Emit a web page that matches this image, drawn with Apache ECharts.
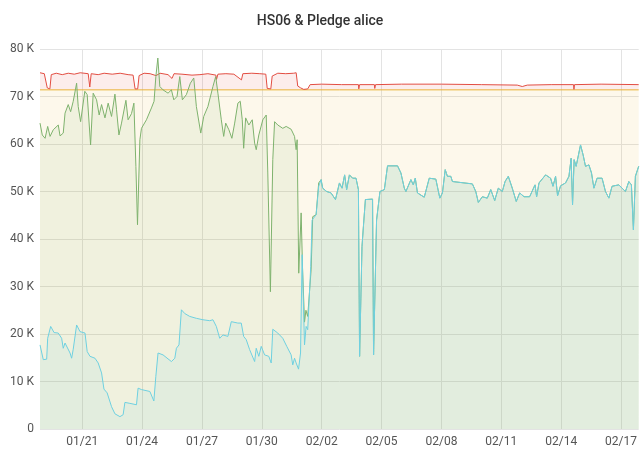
<!DOCTYPE html>
<html>
<head>
<meta charset="utf-8">
<title>HS06 & Pledge alice</title>
<script src="https://cdn.jsdelivr.net/npm/echarts@6/dist/echarts.min.js"></script>
<style>
  html, body { margin: 0; padding: 0; background: #fff; }
  #chart { width: 640px; height: 449px; }
</style>
</head>
<body>
<div id="chart"></div>
<script>
// x values are day of year (01/21 = 21, 02/02 = 33), y values in thousands (K)

// pledge
const pledgeDays = [18.885, 48.885]
const pledgeValues = [71.4, 71.4]

// red line
const redDays = [18.885, 19.1, 19.2, 19.25, 19.38, 19.45, 19.7, 20.0, 20.3, 20.6, 20.9, 21.3, 21.38, 21.45,
  21.8, 22.1, 22.5, 22.9, 23.3, 23.55, 23.65, 23.78, 23.85, 24.1, 24.4, 24.7, 24.9, 25.3, 25.5, 25.6, 26.0,
  26.5, 26.9, 27.3, 27.7, 27.73, 27.8, 28.2, 28.6, 28.98, 29.05, 29.5, 29.9, 30.2, 30.27, 30.45, 30.52,
  30.8, 31.2, 31.6, 31.72, 31.8, 31.95, 32.1, 32.2, 32.3, 32.42, 33, 34, 34.84, 34.86, 34.9, 35.64, 35.66,
  35.7, 37, 39, 41, 42.8, 43.05, 43.3, 44.5, 45.62, 45.64, 45.67, 47, 48.885]
const redValues = [75.0, 74.8, 74.7, 71.8, 71.6, 74.6, 74.9, 74.6, 74.9, 74.7, 75.0, 74.8, 72.0, 74.8,
  74.6, 74.9, 74.7, 74.9, 74.6, 74.5, 71.6, 71.6, 74.4, 74.9, 74.8, 74.4, 74.9, 74.6, 73.8, 74.8, 74.7,
  74.5, 74.6, 74.8, 74.5, 73.6, 74.7, 74.8, 74.7, 73.5, 74.8, 74.9, 74.8, 74.7, 71.7, 71.6, 74.3,
  74.9, 74.8, 74.9, 75.0, 72.2, 71.8, 71.5, 71.9, 71.6, 72.5, 72.6, 72.5, 72.5, 71.6, 72.5, 72.5, 71.7,
  72.5, 72.6, 72.6, 72.5, 72.4, 72.1, 72.4, 72.5, 72.5, 71.5, 72.5, 72.6, 72.5]

// green line, until it joins the cyan one on 02/02
const greenDays = [18.885, 19.0, 19.14, 19.27, 19.39, 19.55, 19.8, 19.89, 20.05, 20.14, 20.3, 20.42, 20.55,
  20.72, 20.8, 20.92, 21.13, 21.25, 21.42, 21.55, 21.72, 21.85, 21.97, 22.14, 22.3, 22.47, 22.64, 22.72,
  22.84, 22.97, 23.19, 23.3, 23.47, 23.59, 23.69, 23.77, 23.89, 23.97, 24.22, 24.47, 24.6, 24.69, 24.79,
  24.89, 25.05, 25.3, 25.47, 25.59, 25.75, 25.89, 26.02, 26.22, 26.42, 26.59, 26.72, 26.94, 27.09, 27.3,
  27.55, 27.69, 27.8, 27.97, 28.09, 28.19, 28.35, 28.5, 28.64, 28.8, 28.92, 29.02, 29.09, 29.19, 29.35,
  29.52, 29.64, 29.72, 29.85, 30.05, 30.22, 30.3, 30.43, 30.55, 30.64, 30.8, 31.05, 31.22, 31.47, 31.64,
  31.72, 31.77, 31.85, 31.97, 32.04, 32.14, 32.21, 32.3, 32.39, 32.47, 32.55, 32.72, 32.85]
const greenValues = [64.4, 61.9, 61.2, 63.7, 61.6, 63.0, 64.0, 61.7, 62.3, 66.5, 68.3, 66.8, 69.0,
  72.8, 67.9, 64.7, 71.1, 70.4, 59.8, 70.7, 69.3, 66.1, 68.3, 65.5, 68.6, 65.8, 70.5, 67.2,
  61.9, 64.4, 69.2, 65.1, 66.4, 68.6, 55.3, 43.0, 60.9, 63.3, 65.1, 67.6, 69.0, 74.2, 78.1,
  72.1, 71.4, 70.7, 71.4, 69.3, 70.0, 74.2, 69.3, 70.4, 72.8, 73.9, 67.9, 62.3, 65.8, 67.9,
  72.1, 74.2, 70.7, 65.1, 61.6, 64.4, 63.0, 61.2, 64.4, 68.6, 69.0, 65.1, 59.1, 65.5, 64.0,
  65.1, 60.2, 58.8, 61.9, 65.1, 66.1, 53.9, 28.9, 56.7, 64.7, 64.0, 63.3, 63.7, 63.1, 61.6,
  58.8, 60.9, 32.8, 45.5, 34.0, 22.5, 25.0, 23.7, 23.5, 33.5, 44.7, 45.1, 51.8]

// cyan line
const cyanDays = [18.885, 19.05, 19.22, 19.27, 19.42, 19.59, 19.8, 19.97, 20.05, 20.14, 20.39, 20.47, 20.55,
  20.64, 20.72, 20.89, 21.14, 21.25, 21.39, 21.64, 21.8, 21.97, 22.09, 22.25, 22.47, 22.64, 22.89, 23.05,
  23.14, 23.39, 23.72, 23.8, 23.97, 24.39, 24.59, 24.69, 24.8, 25.05, 25.47, 25.64, 25.72, 25.85, 25.97,
  26.14, 26.39, 26.72, 27.05, 27.39, 27.55, 27.72, 27.89, 28.05, 28.3, 28.47, 28.8, 28.97, 29.09, 29.22,
  29.39, 29.64, 29.72, 29.85, 29.97, 30.14, 30.35, 30.47, 30.55, 30.8, 31.05, 31.25, 31.47, 31.55, 31.64,
  31.72, 31.84, 31.94, 32.02, 32.14, 32.22, 32.3, 32.39, 32.45, 32.52, 32.72, 32.85, 32.97, 33.05, 33.25,
  33.47, 33.69, 33.89, 34.02, 34.15, 34.25, 34.39, 34.55, 34.72, 34.84, 34.9, 35.02, 35.09, 35.19, 35.55,
  35.6, 35.75, 35.92, 36.14, 36.3, 36.8, 36.97, 37.14, 37.22, 37.47, 37.59, 37.69, 37.8, 38.14, 38.39,
  38.72, 38.92, 39.05, 39.19, 39.3, 39.47, 39.55, 40.55, 40.72, 40.85, 41.05, 41.3, 41.47, 41.67, 41.85,
  42.05, 42.19, 42.35, 42.55, 42.75, 42.92, 43.14, 43.42, 43.69, 43.77, 43.89, 44.22, 44.47, 44.59, 44.72,
  44.82, 44.97, 45.22, 45.39, 45.5, 45.57, 45.65, 45.75, 45.97, 46.1, 46.22, 46.39, 46.52, 46.64, 46.8,
  47.05, 47.22, 47.39, 47.55, 47.89, 48.05, 48.22, 48.39, 48.52, 48.62, 48.72, 48.8, 48.885]
const cyanValues = [17.7, 14.6, 14.7, 19.1, 21.6, 20.3, 20.2, 19.1, 17.0, 18.1, 16.0, 14.9, 16.8,
  17.0, 21.9, 20.5, 20.2, 16.3, 15.3, 14.9, 13.9, 11.8, 8.4, 7.6, 4.7, 3.2, 2.6, 3.0,
  5.6, 5.4, 5.1, 8.6, 8.3, 7.9, 5.9, 11.1, 16.0, 15.6, 14.2, 14.9, 17.0, 17.7, 25.1,
  24.3, 23.7, 23.3, 23.0, 22.8, 23.0, 21.6, 19.1, 19.8, 19.5, 22.6, 22.3, 22.3, 19.5, 18.8,
  16.7, 14.2, 17.0, 15.3, 17.4, 15.6, 15.3, 13.9, 21.0, 20.2, 19.1, 17.4, 15.6, 13.5, 14.9,
  13.9, 12.6, 16.0, 36.7, 17.7, 21.6, 20.9, 21.2, 34.2, 44.0, 45.1, 51.1, 52.5, 50.7, 50.0,
  49.7, 48.3, 51.8, 50.7, 53.5, 50.4, 53.5, 52.8, 52.8, 50.4, 15.3, 38.4, 42.6, 48.3, 48.4,
  15.6, 44.0, 50.0, 50.4, 55.4, 55.4, 53.9, 50.7, 50.0, 52.5, 51.4, 52.8, 49.7, 48.8, 52.8,
  52.6, 48.6, 49.7, 54.6, 53.2, 53.2, 52.1, 51.6, 50.0, 47.7, 48.9, 48.6, 50.4, 48.1, 50.7,
  50.0, 52.1, 53.2, 50.7, 47.9, 49.7, 48.9, 48.9, 51.4, 48.9, 51.8, 53.5, 52.8, 51.1, 53.2,
  49.1, 51.2, 51.8, 53.2, 57.0, 47.2, 56.7, 55.3, 59.8, 57.7, 55.3, 55.6, 53.9, 50.7, 52.8,
  52.8, 50.0, 48.6, 51.1, 51.4, 50.7, 50.0, 52.1, 51.4, 41.9, 53.2, 53.5, 55.3]

// x axis ticks every 3 days (01/21 ... 02/17)
const tickDays = [21, 24, 27, 30, 33, 36, 39, 42, 45, 48]

const pairs = function(days, values) {
  return days.map(function(d, i) {
    return [d, values[i]]
  })
}

// after 02/02 the green series follows the cyan one
const greenData = pairs(greenDays, greenValues).concat(
  pairs(cyanDays, cyanValues).filter(function(p) { return p[0] >= 32.97 })
)

const dayLabel = function(d) {
  if (d <= 31) return '01/' + String(d).padStart(2, '0')
  return '02/' + String(d - 31).padStart(2, '0')
}

const lineSeries = function(name, data, color, fillOpacity, z, origin) {
  return {
    name: name,
    type: 'line',
    data: data,
    showSymbol: false,
    symbol: 'none',
    z: z,
    lineStyle: { color: color, width: 1 },
    itemStyle: { color: color },
    areaStyle: { color: color, opacity: fillOpacity, origin: origin },
    emphasis: { disabled: true },
  }
}

const chart = echarts.init(document.getElementById('chart'))
chart.setOption({
  animation: false,
  title: {
    text: 'HS06 & Pledge alice',
    left: 'center',
    top: 9,
    textStyle: {
      color: '#333',
      fontFamily: 'Roboto',
      fontWeight: 500,
      fontSize: 14,
    },
  },
  grid: {
    left: 40,
    right: 0,
    top: 49,
    bottom: 20,
  },
  xAxis: {
    type: 'value',
    min: 18.885,
    max: 48.885,
    axisLine: { show: false },
    axisTick: { show: false, customValues: tickDays },
    axisLabel: {
      margin: 7,
      color: '#555',
      fontFamily: 'Roboto',
      fontSize: 12,
      customValues: tickDays,
      formatter: dayLabel,
    },
    splitLine: { show: true, lineStyle: { color: '#e3e3e3', width: 1 } },
  },
  yAxis: {
    type: 'value',
    min: 0,
    max: 80,
    interval: 10,
    axisLine: { show: false },
    axisTick: { show: false },
    axisLabel: {
      margin: 6,
      color: '#555',
      fontFamily: 'Roboto',
      fontSize: 12,
      formatter: function(v) { return v === 0 ? '0' : v + ' K' },
    },
    splitLine: { show: true, lineStyle: { color: '#e3e3e3', width: 1 } },
  },
  series: [
    lineSeries('Pledge', pairs(pledgeDays, pledgeValues), '#eab839', 0.1, 2, 'auto'),
    // red fills down to the pledge line only
    lineSeries('Capacity', pairs(redDays, redValues), '#e24d42', 0.1, 3, pledgeValues[0]),
    lineSeries('HS06', greenData, '#7eb26d', 0.1, 4, 'auto'),
    lineSeries('HS06 cyan', pairs(cyanDays, cyanValues), '#6ed0e0', 0.1, 5, 'auto'),
  ],
})
</script>
</body>
</html>
